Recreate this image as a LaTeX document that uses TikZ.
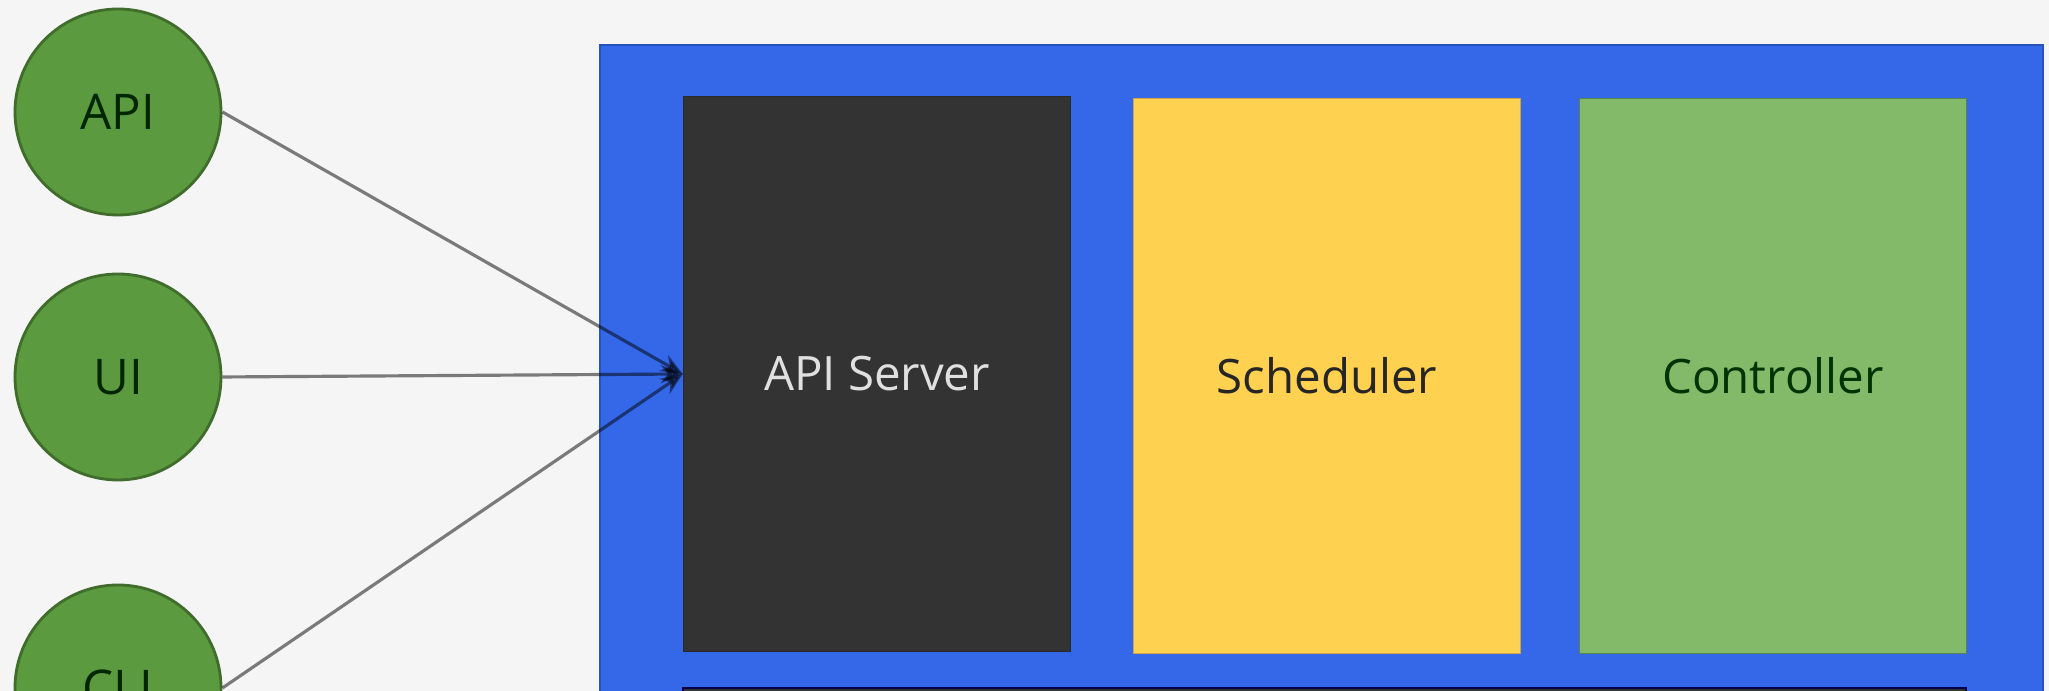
\documentclass[tikz,border=0pt]{standalone}
\usepackage{fontspec}
\setmainfont{Open Sans}
\usetikzlibrary{arrows.meta}
\definecolor{bgpaper}{HTML}{F5F5F5}
\definecolor{masterblue}{HTML}{3468E8}
\definecolor{serverdark}{HTML}{333333}
\definecolor{schedyellow}{HTML}{FFD150}
\definecolor{ctrlgreen}{HTML}{82BA6A}
\definecolor{clientgreen}{HTML}{5B9A3F}
\begin{document}
\begin{tikzpicture}[
    client/.style={circle, fill=clientgreen, draw=clientgreen!70!black, line width=0.8pt,
      minimum size=2.06cm, inner sep=0pt, text=black!85!green, font=\fontsize{14}{16}\selectfont},
    part/.style={rectangle, minimum width=3.87cm, minimum height=5.55cm, inner sep=0pt,
      font=\fontsize{13.5}{16}\selectfont},
    link/.style={line width=0.9pt, black, opacity=0.5, -{Stealth[length=2.2mm,width=1.8mm]}}
  ]
  \clip (0,0) rectangle (20.49,6.91);
  \fill[bgpaper] (0,0) rectangle (20.49,6.91);
  % master box
  \filldraw[fill=masterblue, draw=masterblue!80!black, line width=0.6pt] (6.00,-1) rectangle (20.43,6.46);
  \node[part, fill=serverdark, draw=serverdark!80!black, text=white!88!black] (server) at (8.77,3.17) {API Server};
  \node[part, fill=schedyellow, draw=schedyellow!80!black, text=black!85] (sched) at (13.27,3.15) {Scheduler};
  \node[part, fill=ctrlgreen, draw=ctrlgreen!70!black, text=black!80!green] (ctrl) at (17.73,3.15) {Controller};
  \filldraw[fill=serverdark, draw=black!70!blue, line width=0.8pt] (6.83,0.03) rectangle (19.66,-1);
  % clients
  \node[client] (api) at (1.18,5.79) {API};
  \node[client] (ui) at (1.18,3.14) {UI};
  \node[client] (cli) at (1.18,0.03) {CLI};
  \draw[link] (api.east) -- (server.west);
  \draw[link] (ui.east) -- (server.west);
  \draw[link] (cli.east) -- (server.west);
\end{tikzpicture}
\end{document}
